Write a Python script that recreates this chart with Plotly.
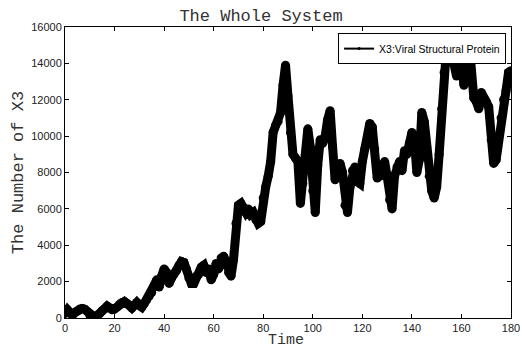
import plotly.graph_objects as go

# Simulation time points and the X3 (viral structural protein) count at each
time = list(range(0, 181))
x3_count = [
    250, 450, 300, 150, 300, 400, 500, 520, 480, 350,
    150, 60, 40, 120, 250, 400, 500, 650, 550, 450,
    500, 600, 750, 850, 900, 800, 700, 550, 700, 850,
    700, 600, 800, 1000, 1200, 1400, 1800, 2100, 1700, 2300,
    2700, 2500, 1900, 2200, 2400, 2600, 2900, 3100, 3050, 2700,
    2200, 1900, 1900, 2300, 2400, 2800, 2900, 2500, 2700, 2100,
    2400, 3000, 2700, 3300, 3400, 3100, 2500, 2300, 3200, 5200,
    6200, 6300, 6100, 5800, 6000, 5700, 5800, 5400, 5200, 5300,
    6600, 7200, 7800, 8600, 10200, 10600, 10800, 11300, 12800, 13900,
    12200, 10200, 9000, 8800, 8600, 6300, 7400, 9000, 10400, 9400,
    7000, 5800, 8400, 9800, 9600, 10000, 10900, 11400, 9400, 7600,
    8300, 8500, 8000, 6200, 5800, 7200, 8100, 8300, 7500, 7400,
    8600, 9300, 9700, 10700, 10500, 9300, 7700, 7800, 8300, 8600,
    7800, 6500, 6000, 7800, 8300, 8600, 8100, 9200, 9000, 9600,
    10200, 9800, 8000, 8700, 11300, 10800, 9400, 7800, 7000, 6600,
    7200, 9000, 11500, 13500, 14900, 15300, 14500, 14200, 13300, 13700,
    14000, 12800, 13300, 15300, 13600, 12100, 11900, 11500, 12400, 12000,
    11900, 11600, 9800, 8500, 8700, 9900, 11000, 12000, 12500, 13500,
    13600,
]

x_ticks = list(range(0, 181, 20))
y_ticks = list(range(0, 16001, 2000))

series_name = "X3:Viral Structural Protein"
mono = "Liberation Mono, Courier New, monospace"
sans = "Liberation Sans, Arial, Helvetica, sans-serif"

fig = go.Figure()

# Thick trajectory with dot markers at each sample
fig.add_trace(go.Scatter(
    x=time, y=x3_count, mode="lines+markers",
    line=dict(color="black", width=9),
    marker=dict(color="black", size=9),
    showlegend=False, hoverinfo="skip",
))

# Legend entry drawn with a thin line and a small dot
fig.add_trace(go.Scatter(
    x=[None], y=[None], mode="lines+markers", name=series_name,
    line=dict(color="black", width=2),
    marker=dict(color="black", size=3),
))

axis_common = dict(
    showgrid=False, zeroline=False, automargin=False,
    showline=True, linecolor="black", linewidth=1, mirror="ticks",
    ticks="inside", ticklen=4, tickwidth=1, tickcolor="black",
    tickfont=dict(family=sans, size=11, color="#222"),
)

fig.update_layout(
    width=522, height=350,
    margin=dict(l=65, r=11, t=27, b=32),
    paper_bgcolor="white", plot_bgcolor="white",
    title=dict(text="The Whole System", x=0.5, xanchor="center",
               y=1 - 15 / 350, yanchor="middle",
               font=dict(family=mono, size=17, color="#333")),
    xaxis=dict(range=[0, 180], tickvals=x_ticks,
               ticktext=[str(v) for v in x_ticks], ticklabelstandoff=0,
               **axis_common),
    yaxis=dict(range=[0, 16000], tickvals=y_ticks,
               ticktext=[str(v) for v in y_ticks],
               title=dict(text="The Number of X3", standoff=3,
                          font=dict(family=mono, size=17, color="#333")),
               **axis_common),
    legend=dict(x=0.989, y=0.979, xanchor="right", yanchor="top",
                bgcolor="white", bordercolor="black", borderwidth=1,
                font=dict(family=sans, size=10.5, color="black"),
                itemwidth=30, tracegroupgap=0),
    showlegend=True,
    annotations=[dict(
        text="Time", xref="paper", yref="paper", x=(286 - 65) / 446,
        y=-0.11, xanchor="center", yanchor="bottom", showarrow=False,
        borderpad=0, font=dict(family=mono, size=15, color="#333"),
    )],
)

fig.write_html("out.html")
